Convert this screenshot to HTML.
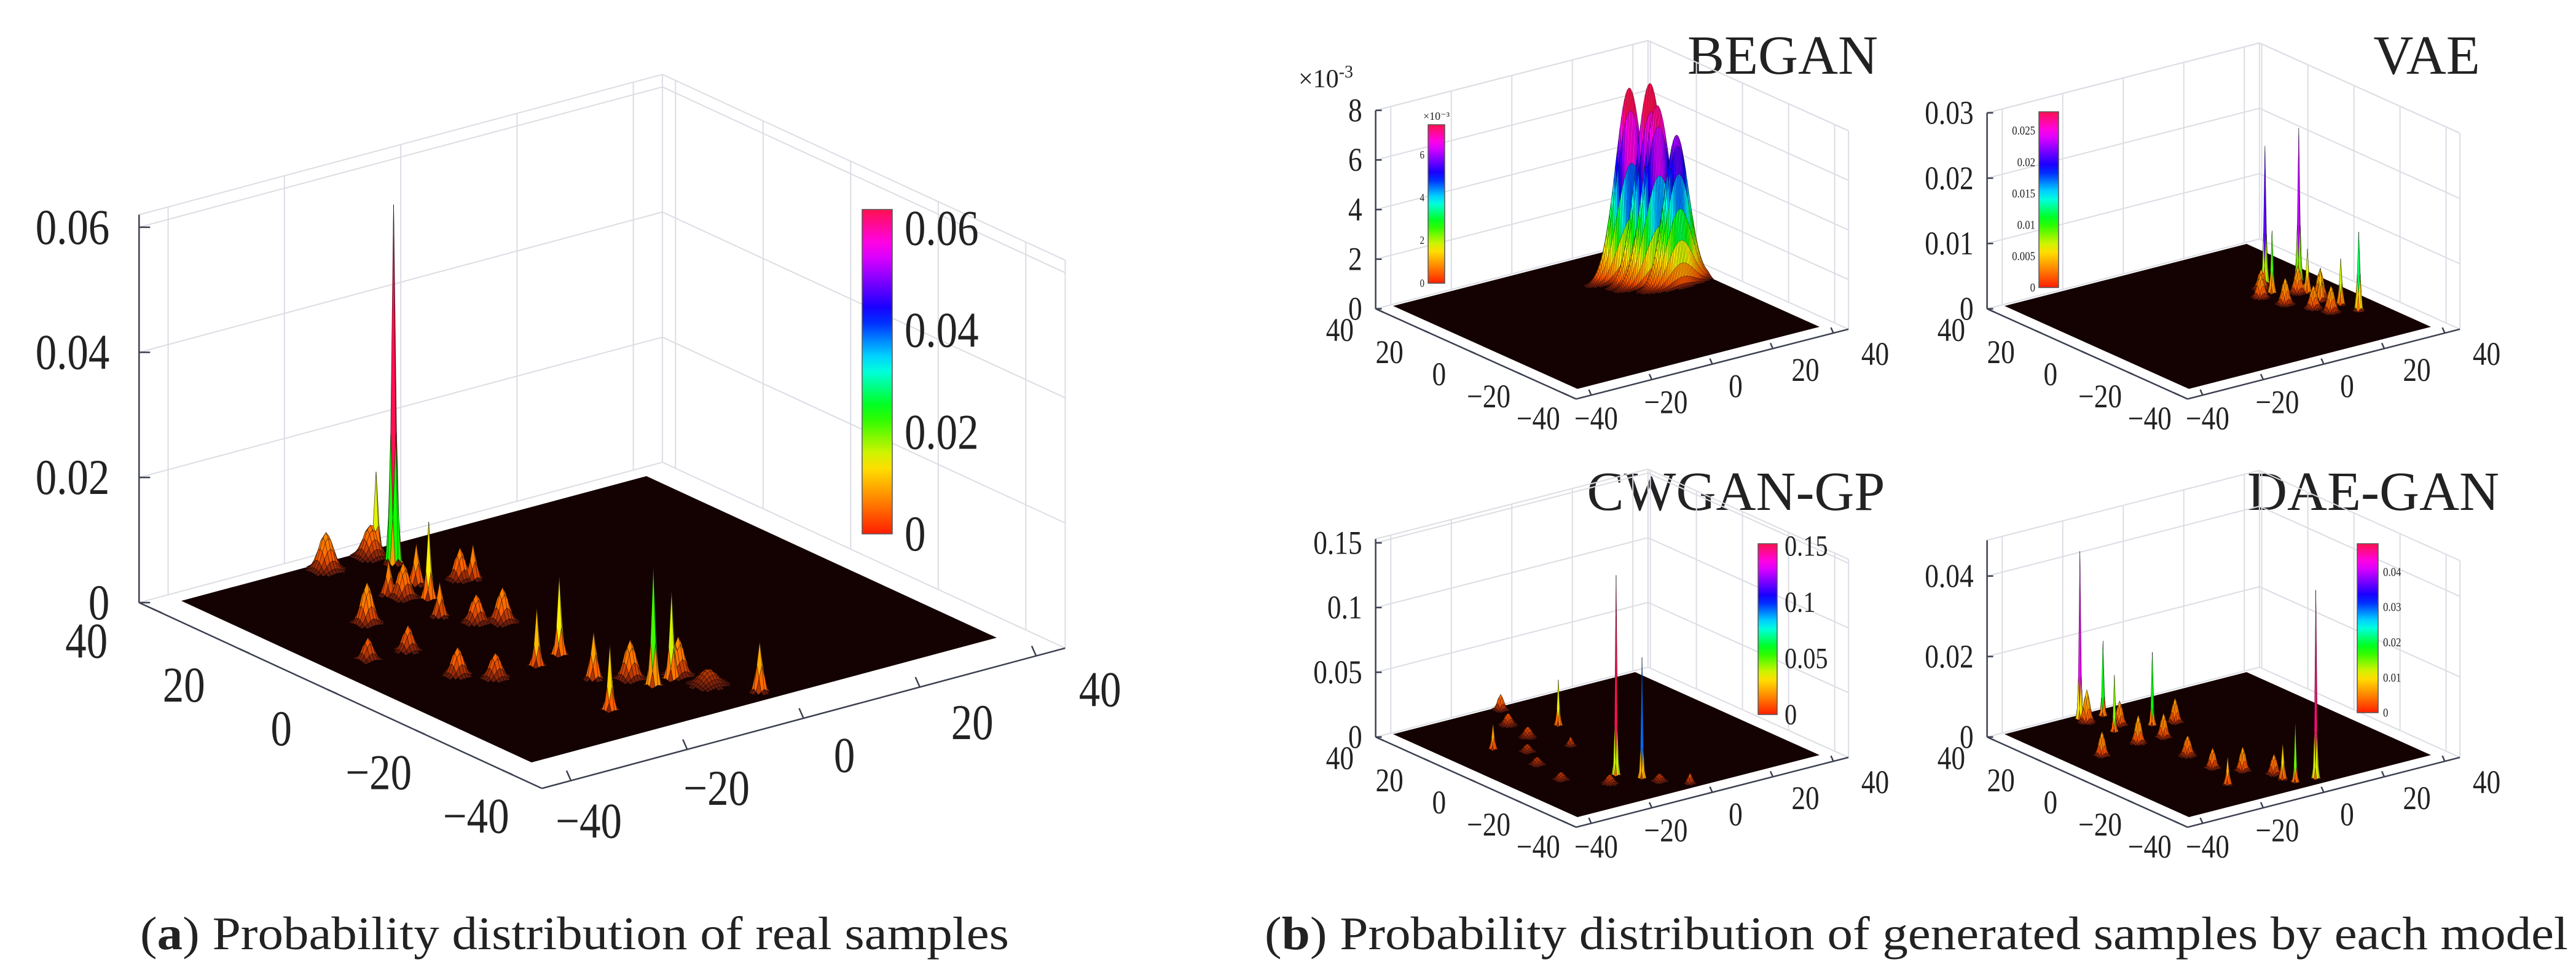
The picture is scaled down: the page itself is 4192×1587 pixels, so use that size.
<!DOCTYPE html>
<html><head><meta charset="utf-8">
<style>
html,body{margin:0;padding:0;background:#fff;}
svg{display:block;}
text{font-family:"Liberation Serif",serif;fill:#222;}
</style></head>
<body>
<svg id="chart" width="4192" height="1587" viewBox="0 0 4192 1587" xmlns="http://www.w3.org/2000/svg">
<rect x="0" y="0" width="4192" height="1587" fill="#fff"/>
<text x="228" y="1545" font-size="76" textLength="1414" lengthAdjust="spacingAndGlyphs">(<tspan font-weight="bold">a</tspan>) Probability distribution of real samples</text>
<text x="2058" y="1545" font-size="76" textLength="2121" lengthAdjust="spacingAndGlyphs">(<tspan font-weight="bold">b</tspan>) Probability distribution of generated samples by each model</text>
<text x="2901" y="120" font-size="90" text-anchor="middle">BEGAN</text>
<text x="3949" y="120" font-size="90" text-anchor="middle">VAE</text>
<text x="2825" y="830" font-size="90" text-anchor="middle">CWGAN-GP</text>
<text x="3862" y="830" font-size="90" text-anchor="middle">DAE-GAN</text>
<text x="2113" y="142" font-size="42">×10<tspan dy="-16" font-size="28">-3</tspan></text>
</svg>
<script>
// ---------- data (peak centres x, y, heights, widths) ----------
const realX=[-7.9,-8,-8.9,-16.8,-12.4,-10.7,-16.2,-15.1,-4.3,-3.2,-15.6,-24.9,-12.9,-10.1,-11.3,-16.4,-33.7,-27,-27.3,-24,-13.3,-18.9,-8.3,-5,-9.3,-3.3,1.6,-2.5];
const realY=[33.8,38,38,37.6,20.2,25.3,24.6,22.3,23.4,22.6,13.6,17.7,8.4,6.3,-8.3,-9.9,5.9,5.3,-6.6,-10.7,-19,-30.2,-26.1,-25.4,-22,-25.1,-36.8,-30.6];
const realH=[0.0573,0.0133,0.005,0.006,0.0122,0.0065,0.0055,0.0055,0.005,0.0055,0.0055,0.0065,0.0045,0.0055,0.0125,0.0092,0.0035,0.004,0.0045,0.004,0.0075,0.0104,0.019,0.014,0.0062,0.0062,0.008,0.0025];
const realW=[0.35,0.35,1.0,1.0,0.35,0.45,0.45,0.8,0.7,0.45,0.45,0.8,0.8,0.8,0.35,0.35,0.7,0.7,0.8,0.8,0.45,0.35,0.35,0.35,0.8,0.8,0.45,1.3];

const beganX=[23.6,26.3,27.1,30];
const beganY=[20.9,15.9,13.5,9];
const beganH=[0.0076,0.0079,0.0071,0.006];
const beganW=[1.0,0.9,1.0,1.3];
const beganWX=[4.5,4.5,4.5,4];

const vaeX=[25.5,22.7,34.2,30.2,28.8,31.6,32.5,18,20,24,26,28,22,30];
const vaeY=[13,6.1,9.4,0.5,-6.7,-11.8,-18.4,5,-3,-10,-15,2,10,-5];
const vaeH=[0.021,0.0095,0.0233,0.0067,0.005,0.007,0.012,0.0035,0.004,0.0035,0.004,0.004,0.003,0.0045];
const vaeW=[0.35,0.35,0.35,0.4,0.5,0.4,0.4,0.9,0.9,0.9,0.9,0.9,0.9,0.9];

const cwX=[-12,-7.8,-0.8,-5.8,-11.5,-13,-26,-24,-26,-17.6,-6,-0.7,-20,-8];
const cwY=[-20,-26.2,19.5,38,27.6,16.8,14.8,-1.4,-14.7,-24.7,-31,-37,8,5];
const cwH=[0.154,0.093,0.035,0.012,0.009,0.008,0.02,0.006,0.006,0.007,0.006,0.008,0.006,0.007];
const cwW=[0.3,0.3,0.35,0.8,1.0,1.0,0.4,1.0,1.0,1.0,1.0,0.6,1.0,0.6];

const daeX=[-16.8,-10.7,-15.3,-4.6,5.2,-0.8,-16.5,-2.4,-11.4,-16.1,-8.1,-11.5,-29.6,-12.1,-7,-2,-17,1.7];
const daeY=[37.4,35.8,24.5,22.4,-35.9,-35,-26.2,-31.4,27.5,13.3,13.1,-2.1,11.5,-13.5,-20.2,-27,34.6,20.6];
const daeH=[0.0417,0.0185,0.014,0.018,0.0467,0.015,0.007,0.009,0.006,0.007,0.006,0.005,0.006,0.005,0.006,0.005,0.008,0.006];
const daeW=[0.3,0.3,0.3,0.3,0.3,0.3,0.4,0.4,0.8,0.8,0.8,0.9,0.8,0.8,0.8,0.8,0.8,0.8];

// tick values
const xyTicks=[-40,-20,0,20,40];
const realZTicks=[0,0.02,0.04,0.06];
const beganZTicks=[0,2,4,6,8];
const vaeZTicks=[0,0.01,0.02,0.03];
const cwZTicks=[0,0.05,0.1,0.15];
const daeZTicks=[0,0.02,0.04];
const realCTicks=[0,0.02,0.04,0.06];
const beganCTicks=[0,2,4,6];
const vaeCTicks=[0,0.005,0.01,0.015,0.02,0.025];
const cwCTicks=[0,0.05,0.1,0.15];
const daeCTicks=[0,0.01,0.02,0.03,0.04];

// ---------- rendering ----------
const NS='http://www.w3.org/2000/svg';
const svg=document.getElementById('chart');
const CMAP=[[0,[255,30,0]],[0.1,[255,128,0]],[0.22,[255,240,0]],[0.38,[0,255,0]],[0.52,[0,255,255]],[0.68,[0,0,255]],[0.78,[128,0,255]],[0.88,[255,0,255]],[1,[255,16,80]]];
function cmap(v){v=Math.max(0,Math.min(1,v));for(let i=1;i<CMAP.length;i++){if(v<=CMAP[i][0]){const a=CMAP[i-1],b=CMAP[i];const t=(v-a[0])/(b[0]-a[0]);return a[1].map((c,k)=>c+(b[1][k]-c)*t);}}return CMAP[CMAP.length-1][1];}
function rgb(c){return 'rgb('+c.map(Math.round).join(',')+')';}
function fmt(v){return (v<0?'−':'')+Math.abs(v);}

const defs=document.createElementNS(NS,'defs');svg.appendChild(defs);
const grad=document.createElementNS(NS,'linearGradient');
grad.setAttribute('id','cbgrad');grad.setAttribute('x1','0');grad.setAttribute('y1','1');grad.setAttribute('x2','0');grad.setAttribute('y2','0');
for(let i=0;i<=20;i++){const s=document.createElementNS(NS,'stop');s.setAttribute('offset',i/20);s.setAttribute('stop-color',rgb(cmap(i/20)));grad.appendChild(s);}
defs.appendChild(grad);

function panel(P){
  const g=document.createElementNS(NS,'g');
  
  
  svg.appendChild(g);
  const R=[P.right[0]-P.front[0],P.right[1]-P.front[1]];
  const L=[P.left[0]-P.front[0],P.left[1]-P.front[1]];
  const pr=(x,y,z)=>{const a=(x+40)/80,b=(y+40)/80;return [P.front[0]+a*R[0]+b*L[0],P.front[1]+a*R[1]+b*L[1]-z*P.zs];};
  const line=(p,q,col,w,name)=>{const l=document.createElementNS(NS,'line');
    l.setAttribute('x1',p[0]);l.setAttribute('y1',p[1]);l.setAttribute('x2',q[0]);l.setAttribute('y2',q[1]);
    l.setAttribute('stroke',col);l.setAttribute('stroke-width',w);
    
    
    g.appendChild(l);};
  const X0=P.xlim[0],X1=P.xlim[1],Y0=P.ylim[0],Y1=P.ylim[1],ZM=P.zmax;
  const gc='#dcdde4';
  xyTicks.forEach(t=>{line(pr(t,Y1,0),pr(t,Y1,ZM),gc,2,'grid-line-x');line(pr(X1,t,0),pr(X1,t,ZM),gc,2,'grid-line-y');});
  P.zt.forEach(t=>{const z=t*P.zmul;line(pr(X0,Y1,z),pr(X1,Y1,z),gc,2,'grid-line-z');line(pr(X1,Y1,z),pr(X1,Y0,z),gc,2,'grid-line-z');});
  line(pr(X0,Y1,ZM),pr(X1,Y1,ZM),gc,2,'box-edge');line(pr(X1,Y1,ZM),pr(X1,Y0,ZM),gc,2,'box-edge');
  line(pr(X1,Y1,0),pr(X1,Y1,ZM),gc,2,'box-edge');line(pr(X1,Y0,0),pr(X1,Y0,ZM),gc,2,'box-edge');
  const ac='#3c4050';
  line(pr(X0,Y1,0),pr(X0,Y1,ZM),ac,2.5,'z-axis');
  line(pr(X0,Y1,0),pr(X0,Y0,0),ac,2.5,'y-axis');
  line(pr(X0,Y0,0),pr(X1,Y0,0),ac,2.5,'x-axis');
  const fs=P.fs;
  const txt=(x,y,s,size,anchor,name,sx)=>{const t=document.createElementNS(NS,'text');
    t.setAttribute('x',0);t.setAttribute('y',0);t.setAttribute('font-size',size);t.setAttribute('text-anchor',anchor);t.textContent=s;
    t.setAttribute('transform','translate('+x+','+y+') scale('+(sx||1)+',1)');
    
    
    g.appendChild(t);};
  const sx=0.84;
  P.zt.forEach(t=>{const p=pr(X0,Y1,t*P.zmul);line(p,[p[0]+P.tk,p[1]],ac,2.5,'z-tick');
    txt(p[0]-P.zlOff,p[1]+fs*0.33,String(t),fs,'end','z-tick-label',sx);});
  xyTicks.forEach(v=>{
    const py=pr(X0,v,0);line(py,[py[0]+P.tk*0.9,py[1]+P.tk*0.4],ac,2.5,'y-tick');
    const ty=(40-v)/80;
    txt(py[0]+P.yo[0]+P.yo[2]*ty,py[1]+P.yo[1]+P.yo[3]*ty+fs*0.33,fmt(v),fs,'middle','y-tick-label',sx);
    const px=pr(v,Y0,0);line(px,[px[0]-P.tk*0.4,px[1]-P.tk*0.9],ac,2.5,'x-tick');
    const tx=(v+40)/80;
    txt(px[0]+P.xo[0]+P.xo[2]*tx,px[1]+P.xo[1]+P.xo[3]*tx+fs*0.33,fmt(v),fs,'middle','x-tick-label',sx);
  });
  const fl=document.createElementNS(NS,'polygon');
  fl.setAttribute('points',[pr(-40,-40,0),pr(40,-40,0),pr(40,40,0),pr(-40,40,0)].map(p=>p.join(',')).join(' '));
  fl.setAttribute('fill','#140202');
  
  
  g.appendChild(fl);
  const N=160,st=80/N;
  const H=[];
  const snap=v=>Math.round((v+40)/st)*st-40;
  for(let i=0;i<=N;i++){H[i]=new Float32Array(N+1);const x=-40+i*st;
    for(let j=0;j<=N;j++){const y=-40+j*st;let h=0;
      for(let k=0;k<P.px.length;k++){const wx=P.wx?P.wx[k]:P.pw[k],wy=P.pw[k];
        const dx=x-snap(P.px[k]),dy=y-snap(P.py[k]);const e=dx*dx/(2*wx*wx)+dy*dy/(2*wy*wy);if(e<12)h=Math.max(h,P.ph[k]*Math.exp(-e));}
      H[i][j]=h;}}
  const thr=P.cmax*0.006;
  const quads=[];
  for(let i=0;i<N;i++)for(let j=0;j<N;j++){const m=Math.max(H[i][j],H[i+1][j],H[i][j+1],H[i+1][j+1]);if(m>thr)quads.push([i,j,m]);}
  quads.sort((a,b)=>(b[0]+b[1])-(a[0]+a[1]));
  const sg=document.createElementNS(NS,'g');
  
  
  g.appendChild(sg);
  const ccol=P.ccol||P.cmax;
  quads.forEach(q=>{const i=q[0],j=q[1];
    const pts=[[i,j],[i+1,j],[i+1,j+1],[i,j+1]].map(a=>pr(-40+a[0]*st,-40+a[1]*st,H[a[0]][a[1]]));
    let c=cmap(q[2]/ccol);const br=Math.min(1,0.2+0.8*q[2]/(P.cmax*0.06));c=c.map(v=>v*br+20*(1-br));
    const pg=document.createElementNS(NS,'polygon');
    pg.setAttribute('points',pts.map(p=>p[0].toFixed(1)+','+p[1].toFixed(1)).join(' '));
    pg.setAttribute('fill',rgb(c));pg.setAttribute('stroke','rgba(0,0,0,0.5)');pg.setAttribute('stroke-width',P.sw);
    
    
    sg.appendChild(pg);});
  const cb=P.cb;
  const r=document.createElementNS(NS,'rect');
  r.setAttribute('x',cb.x);r.setAttribute('y',cb.y0);r.setAttribute('width',cb.w);r.setAttribute('height',cb.y1-cb.y0);
  r.setAttribute('fill','url(#cbgrad)');r.setAttribute('stroke','#555');r.setAttribute('stroke-width',1.5);
  
  
  g.appendChild(r);
  P.ct.forEach(t=>{const y=cb.y1-(t*P.zmul)/P.cmax*(cb.y1-cb.y0);
    const lx=cb.left?cb.x-6:cb.x+cb.w+cb.lg;
    txt(lx,y+cb.fs*0.33,String(t),cb.fs,cb.left?'end':'start','colorbar-tick-label',sx);});
  if(cb.exp){txt(cb.x+cb.w/2,cb.y0-8,'×10⁻³',cb.fs,'middle','colorbar-exponent',1);}
}

panel({name:'panel-real',front:[865,1241],right:[1622,1038],left:[295,978],zs:10183,xlim:[-45,45],ylim:[-49,43],zmax:0.062,zmul:1,
  zt:realZTicks,ct:realCTicks,cmax:0.0637,ccol:0.056,fs:82,tk:18,zlOff:48,yo:[-107,53,64,22],xo:[29,66,75,-11],sw:0.8,
  px:realX,py:realY,ph:realH,pw:realW,cb:{x:1403,w:49,y0:341,y1:869,fs:82,lg:20}});
panel({name:'panel-began',front:[2567,633],right:[2961,532],left:[2267,498],zs:40375,xlim:[-45,45],ylim:[-46,41],zmax:0.008,zmul:0.001,
  zt:beganZTicks,ct:beganCTicks,cmax:0.0074,fs:54,tk:10,zlOff:22,yo:[-62,33,23,9],xo:[8,38,60,-4],sw:0.5,
  px:beganX,py:beganY,ph:beganH,pw:beganW,wx:beganWX,cb:{x:2324,w:27,y0:203,y1:461,fs:18,lg:6,left:true,exp:true}});
panel({name:'panel-vae',front:[3562,633],right:[3956,532],left:[3262,498],zs:10633,xlim:[-45,45],ylim:[-46,41],zmax:0.03,zmul:1,
  zt:vaeZTicks,ct:vaeCTicks,cmax:0.028,fs:54,tk:10,zlOff:22,yo:[-62,33,23,9],xo:[8,38,60,-4],sw:0.5,
  px:vaeX,py:vaeY,ph:vaeH,pw:vaeW,cb:{x:3318,w:32,y0:182,y1:468,fs:20,lg:6,left:true}});
panel({name:'panel-cwgan-gp',front:[2567,1330],right:[2961,1229],left:[2267,1195],zs:2107,xlim:[-45,45],ylim:[-46,41],zmax:0.153,zmul:1,
  zt:cwZTicks,ct:cwCTicks,cmax:0.152,fs:54,tk:10,zlOff:22,yo:[-62,33,23,9],xo:[8,38,60,-4],sw:0.5,
  px:cwX,py:cwY,ph:cwH,pw:cwW,cb:{x:2861,w:31,y0:885,y1:1163,fs:48,lg:12}});
panel({name:'panel-dae-gan',front:[3562,1330],right:[3956,1229],left:[3262,1195],zs:6550,xlim:[-45,45],ylim:[-46,41],zmax:0.0489,zmul:1,
  zt:daeZTicks,ct:daeCTicks,cmax:0.048,fs:54,tk:10,zlOff:22,yo:[-62,33,23,9],xo:[8,38,60,-4],sw:0.5,
  px:daeX,py:daeY,ph:daeH,pw:daeW,cb:{x:3836,w:34,y0:885,y1:1160,fs:20,lg:8}});
</script>
</body></html>
